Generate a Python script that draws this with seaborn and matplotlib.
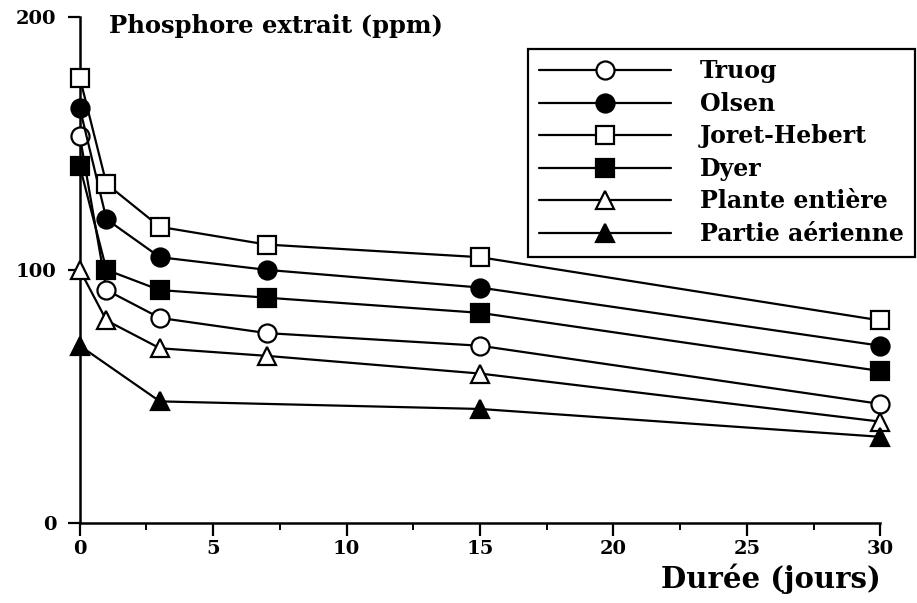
import pandas as pd
import matplotlib.pyplot as plt
import seaborn as sns
from matplotlib.ticker import MultipleLocator

sns.set_style("white")
plt.rcParams['font.family'] = ['DejaVu Serif']
plt.rcParams['font.weight'] = 'bold'
plt.rcParams['text.color'] = 'black'
plt.rcParams['xtick.color'] = 'black'
plt.rcParams['ytick.color'] = 'black'
plt.rcParams['axes.labelcolor'] = 'black'

# Data
days = [0, 1, 3, 7, 15, 30]
truog = [153, 92, 81, 75, 70, 47]
olsen = [164, 120, 105, 100, 93, 70]
joret = [176, 134, 117, 110, 105, 80]
dyer = [141, 100, 92, 89, 83, 60]
plante = [100, 80, 69, 66, 59, 40]
aer_days = [0, 3, 15, 30]
aerienne = [70, 48, 45, 34]

series = [
    ('Truog', days, truog, 'o', 'white'),
    ('Olsen', days, olsen, 'o', 'black'),
    ('Joret-Hebert', days, joret, 's', 'white'),
    ('Dyer', days, dyer, 's', 'black'),
    ('Plante entière', days, plante, '^', 'white'),
    ('Partie aérienne', aer_days, aerienne, '^', 'black'),
]

fig = plt.figure(figsize=(9.17, 6.03), dpi=100)
ax = fig.add_axes([0.087, 0.133, 0.873, 0.839])

for name, x, y, mk, fc in series:
    df = pd.DataFrame({'x': x, 'y': y})
    sns.lineplot(data=df, x='x', y='y', ax=ax, color='black', linewidth=1.6,
                 marker=mk, markersize=13, markerfacecolor=fc,
                 markeredgecolor='black', markeredgewidth=1.6,
                 label=name, clip_on=False, zorder=3)

ax.set_xlim(0, 30)
ax.set_ylim(0, 200)
ax.xaxis.set_major_locator(MultipleLocator(5))
ax.xaxis.set_minor_locator(MultipleLocator(2.5))
ax.set_yticks([0, 100, 200])
ax.tick_params(axis='both', which='major', direction='out', length=9, width=1.6,
               labelsize=14, bottom=True, left=True, color='black')
ax.tick_params(axis='x', which='minor', direction='out', length=5, width=1.4,
               bottom=True)
ax.tick_params(axis='y', pad=8)
for lab in ax.get_xticklabels() + ax.get_yticklabels():
    lab.set_fontweight('bold')

sns.despine(ax=ax)
for s in ['left', 'bottom']:
    ax.spines[s].set_linewidth(1.8)
    ax.spines[s].set_color('black')

ax.set_xlabel('Durée (jours)', fontsize=21, fontweight='bold', loc='right', labelpad=4)
ax.set_ylabel('')
ax.text(0.037, 0.982, 'Phosphore extrait (ppm)', transform=ax.transAxes,
        fontsize=17.5, fontweight='bold', va='center', ha='left')

leg = ax.legend(loc='upper right', bbox_to_anchor=(1.043, 0.937), frameon=True,
                fancybox=False, edgecolor='black', handlelength=5.6,
                handletextpad=1.25, labelspacing=0.36, borderpad=0.45,
                borderaxespad=0.0,
                prop={'family': 'DejaVu Serif', 'weight': 'bold', 'size': 17})
leg.get_frame().set_linewidth(1.6)
leg.get_frame().set_alpha(1)

fig.savefig('out.png', dpi=100)
